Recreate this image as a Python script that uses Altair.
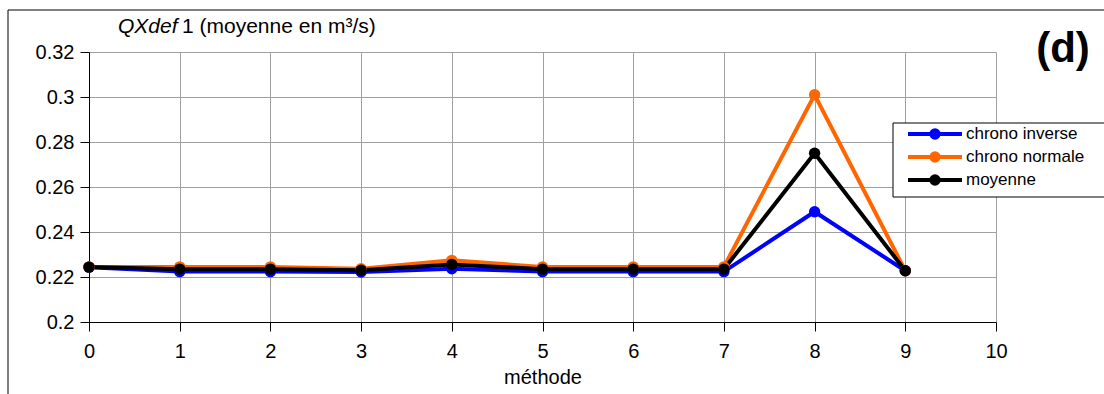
import altair as alt
import pandas as pd

methode = [0, 1, 2, 3, 4, 5, 6, 7, 8, 9]
chrono_inverse = [0.2243, 0.2224, 0.2224, 0.2222, 0.2237, 0.2224, 0.2224, 0.2224, 0.249, 0.2228]
chrono_normale = [0.2245, 0.2245, 0.2245, 0.2237, 0.2274, 0.2245, 0.2245, 0.2245, 0.301, 0.2228]
moyenne = [0.2244, 0.2235, 0.2235, 0.2230, 0.2256, 0.2235, 0.2235, 0.2235, 0.275, 0.2228]
series_names = ["chrono inverse", "chrono normale", "moyenne"]
series_colors = ["#0000FF", "#FF6600", "#000000"]
x_ticks = [0, 1, 2, 3, 4, 5, 6, 7, 8, 9, 10]
y_ticks = [0.2, 0.22, 0.24, 0.26, 0.28, 0.3, 0.32]

rows = []
for name, vals in zip(series_names, [chrono_inverse, chrono_normale, moyenne]):
    for m, v in zip(methode, vals):
        rows.append({"methode": m, "valeur": v, "serie": name})
df = pd.DataFrame(rows)
leg_df = pd.DataFrame({"serie": series_names})
one = pd.DataFrame({"k": [0]})

FONT = "Liberation Sans"

x_scale = alt.Scale(domain=[0, 10], nice=False)
y_scale = alt.Scale(domain=[0.2, 0.32], nice=False, zero=False)
color_scale = alt.Scale(domain=series_names, range=series_colors)

xenc = alt.X("methode:Q", scale=x_scale,
             axis=alt.Axis(values=x_ticks, title="méthode", format="d",
                           labelFontSize=20, titleFontSize=20, titleFontWeight="normal",
                           labelPadding=10, titlePadding=6, tickSize=9, labelFlush=False,
                           grid=True))
yenc = alt.Y("valeur:Q", scale=y_scale,
             axis=alt.Axis(values=y_ticks, title=None, labelFontSize=20, labelFlush=False,
                           labelPadding=6, tickSize=9, grid=True,
                           labelExpr="format(datum.value, '.2~f')"))

lines = alt.Chart(df).mark_line(strokeWidth=4, clip=False).encode(
    x=xenc, y=yenc,
    color=alt.Color("serie:N", scale=color_scale, legend=None),
    detail="serie:N",
)
points = alt.Chart(df).mark_circle(size=130, opacity=1, clip=False).encode(
    x=alt.X("methode:Q"), y=alt.Y("valeur:Q"),
    color=alt.Color("serie:N", scale=color_scale, legend=None),
)
main = alt.layer(lines, points)

# manual legend
leg_y = alt.Y("serie:N", scale=alt.Scale(type="point", domain=series_names,
                                          range=[82, 128], padding=0), axis=None)
leg_box = alt.Chart(one).mark_rect(fill="white", stroke="black", strokeWidth=1, clip=False).encode(
    x=alt.value(804), x2=alt.value(1022), y=alt.value(71), y2=alt.value(145))
leg_line = alt.Chart(leg_df).mark_rule(strokeWidth=4, clip=False).encode(
    x=alt.value(819), x2=alt.value(873), y=leg_y,
    color=alt.Color("serie:N", scale=color_scale, legend=None))
leg_pt = alt.Chart(leg_df).mark_circle(size=130, opacity=1, clip=False).encode(
    x=alt.value(846), y=leg_y,
    color=alt.Color("serie:N", scale=color_scale, legend=None))
leg_txt = alt.Chart(leg_df).mark_text(align="left", baseline="middle", fontSize=17,
                                      font=FONT, color="black", clip=False).encode(
    x=alt.value(877), y=leg_y, text="serie:N")
legend = alt.layer(leg_box, leg_line, leg_pt, leg_txt)

frame_top = alt.Chart(one).mark_rule(color="black", strokeWidth=1, clip=False).encode(
    x=alt.value(-81), x2=alt.value(1015), y=alt.value(-42))
frame_left = alt.Chart(one).mark_rule(color="black", strokeWidth=1, clip=False).encode(
    x=alt.value(-81), y=alt.value(-42), y2=alt.value(342))

title_it = alt.Chart(one).mark_text(text="QXdef", fontStyle="italic", fontSize=21, font=FONT,
                                    align="left", baseline="alphabetic").encode(
    x=alt.value(29), y=alt.value(-19))
title_rest = alt.Chart(one).mark_text(text="1 (moyenne en m³/s)", fontSize=21, font=FONT,
                                      align="left", baseline="alphabetic").encode(
    x=alt.value(93), y=alt.value(-19))
label_d = alt.Chart(one).mark_text(text="(d)", fontSize=42, fontWeight="bold", font=FONT,
                                   align="center", baseline="middle").encode(
    x=alt.value(974), y=alt.value(-3))

chart = alt.layer(main, legend, frame_top, frame_left, title_it, title_rest, label_d).resolve_scale(
    y="independent"
).properties(
    width=907, height=270,
    padding={"left": 89, "top": 52, "right": 108, "bottom": 72},
    autosize=alt.AutoSizeParams(type="none"),
    background="white",
).configure_view(stroke=None).configure_axis(
    labelFont=FONT, titleFont=FONT, labelColor="black", titleColor="black",
    domainColor="black", tickColor="black", gridColor="#A0A0A0", domainWidth=1,
)

chart.save("out.html", embed_options={"renderer": "svg", "actions": False})
